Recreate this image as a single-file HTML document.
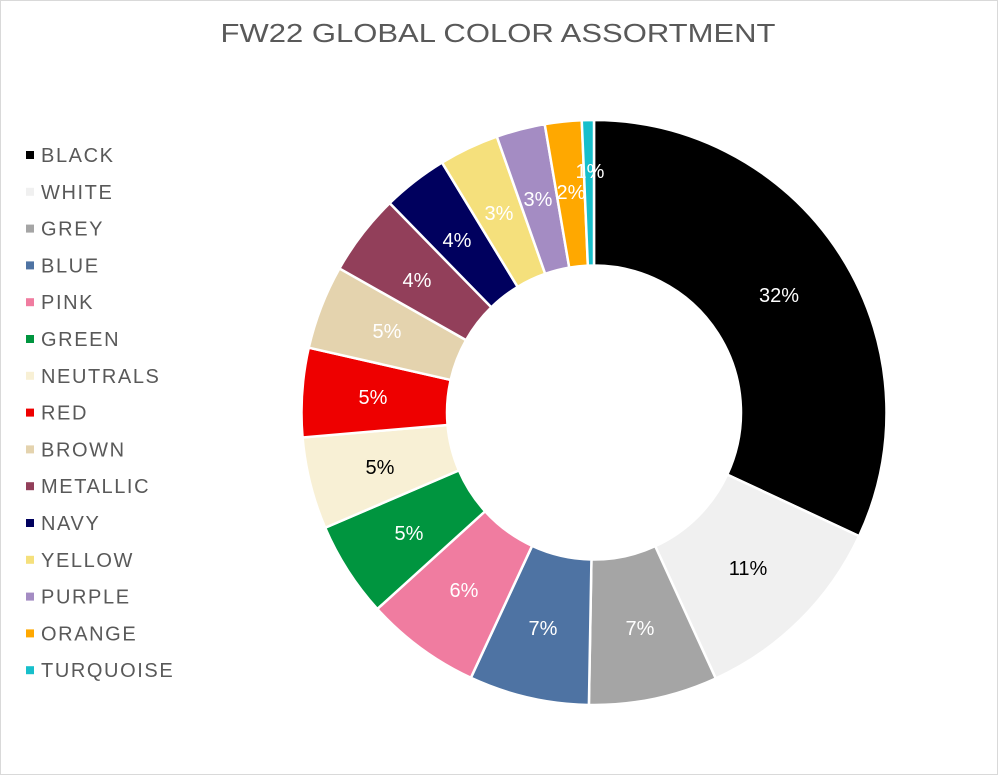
<!DOCTYPE html>
<html><head><meta charset="utf-8"><style>
html,body{margin:0;padding:0;background:#fff}
svg{display:block}
text{font-family:"Liberation Sans",sans-serif}
</style></head><body>
<svg id="s" width="998" height="775" viewBox="0 0 998 775" xmlns="http://www.w3.org/2000/svg">
<rect x="0.5" y="0.5" width="997" height="774" fill="#fff" stroke="#d9d9d9" stroke-width="1"/>
<text x="498" y="42" text-anchor="middle" font-size="26" fill="#595959" textLength="555" lengthAdjust="spacingAndGlyphs">FW22 GLOBAL COLOR ASSORTMENT</text>
<g id="slices"></g>
<g font-size="20" text-anchor="middle">
<text x="779" y="302" fill="#fff">32%</text>
<text x="748" y="575" fill="#000">11%</text>
<text x="640" y="635" fill="#fff">7%</text>
<text x="543" y="635" fill="#fff">7%</text>
<text x="464" y="597" fill="#fff">6%</text>
<text x="409" y="540" fill="#fff">5%</text>
<text x="380" y="474" fill="#000">5%</text>
<text x="373" y="404" fill="#fff">5%</text>
<text x="387" y="338" fill="#fff">5%</text>
<text x="417" y="287" fill="#fff">4%</text>
<text x="457" y="247" fill="#fff">4%</text>
<text x="499" y="220" fill="#fff">3%</text>
<text x="538" y="206" fill="#fff">3%</text>
<text x="571" y="199" fill="#fff">2%</text>
<text x="590" y="178" fill="#fff">1%</text>
</g>
<g id="legend" font-size="20" fill="#595959" letter-spacing="1.6"></g>
</svg>
<script>
var cx=594,cy=412.5,R=292.5,r=147;
var d=[["BLACK","#000000",115],["WHITE","#f0f0f0",155.4],["GREY","#a5a5a5",181],["BLUE","#4e73a3",204.9],["PINK","#f07ca0",227.8],["GREEN","#00953f",246.8],["NEUTRALS","#f8f0d5",265.1],["RED","#ee0000",282.8],["BROWN","#e4d3ae",299.5],["METALLIC","#923f5a",315.7],["NAVY","#00005e",328.7],["YELLOW","#f5e07c",340.6],["PURPLE","#a48cc3",350.3],["ORANGE","#ffa800",357.6],["TURQUOISE","#17bfcb",360]];
function pt(a,rad){a=a*Math.PI/180;return [cx+rad*Math.sin(a),cy-rad*Math.cos(a)];}
var g=document.getElementById('slices'),L=document.getElementById('legend'),ns="http://www.w3.org/2000/svg",s=0;
d.forEach(function(e,i){var a0=s,a1=e[2];s=a1;var lg=(a1-a0)>180?1:0;
var p1=pt(a0,R),p2=pt(a1,R),p3=pt(a1,r),p4=pt(a0,r);
var p=document.createElementNS(ns,'path');
p.setAttribute('d','M'+p1+' A'+R+' '+R+' 0 '+lg+' 1 '+p2+' L'+p3+' A'+r+' '+r+' 0 '+lg+' 0 '+p4+' Z');
p.setAttribute('fill',e[1]);p.setAttribute('stroke','#fff');p.setAttribute('stroke-width','2.5');p.setAttribute('stroke-linejoin','round');
g.appendChild(p);
var y=155+i*36.8;
var q=document.createElementNS(ns,'rect');q.setAttribute('x',26);q.setAttribute('y',y-4);q.setAttribute('width',8);q.setAttribute('height',8);q.setAttribute('fill',e[1]);L.appendChild(q);
var t=document.createElementNS(ns,'text');t.setAttribute('x',41);t.setAttribute('y',y+7);t.textContent=e[0];L.appendChild(t);
});
</script>
</body></html>
